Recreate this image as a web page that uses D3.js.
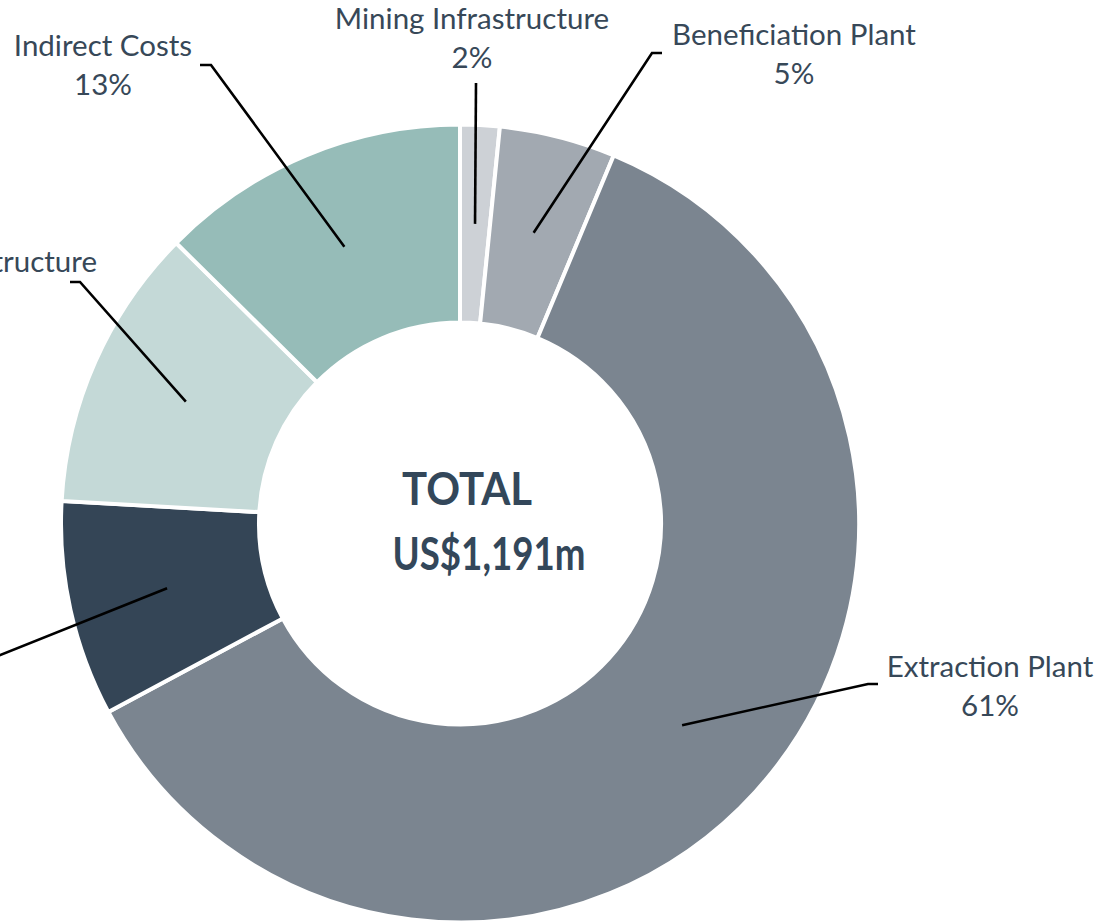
<!DOCTYPE html>
<html>
<head>
<meta charset="utf-8">
<script src="https://cdn.jsdelivr.net/npm/d3@7"></script>
<style>
  html, body { margin: 0; padding: 0; background: #fff; overflow: hidden; }
  svg { display: block; }
</style>
</head>
<body>
<div id="chart"></div>
<script>
// capex split, US$m (clockwise from 12 o'clock)
var categories = ["Mining Infrastructure", "Beneficiation Plant", "Extraction Plant",
                  "Contingency", "Non-Process Infrastructure", "Indirect Costs"];
var values = [19, 56, 725, 104, 137, 150];
var colours = ["#cdd1d6", "#a2a9b1", "#7b8590", "#344556", "#c4d9d7", "#96bcb8"];
var totalLines = ["TOTAL", "US$1,191m"];

// where each label sits: elbow end of the leader (ex, ey), text centre / baseline
var labelLayout = [
    { ex: 476, ey: 83, elbow: 0, tx: 472, ty: 29 },
    { ex: 652, ey: 53, elbow: 10, tx: 794, ty: 45 },
    { ex: 868, ey: 684, elbow: 10, tx: 990, ty: 677 },
    { ex: -150, ey: 715, elbow: -10, tx: -260, ty: 712 },
    { ex: 80, ey: 282, elbow: -10, tx: 97, ty: 272, alignEnd: true },
    { ex: 211, ey: 65, elbow: -11, tx: 103, ty: 56 }
];

var width = 1097, height = 921;
var cx = 460, cy = 523.5;
var outerR = 399, innerR = 201;
var textColour = "#374858";

var svg = d3.select('#chart').append('svg')
    .attr('width', width)
    .attr('height', height);

var total = d3.sum(values);
var rows = categories.map(function (c, i) {
    return { name: c, value: values[i], colour: colours[i], layout: labelLayout[i] };
});

var pie = d3.pie()
    .sort(null)
    .value(function (d) { return d.value; });

var arc = d3.arc().innerRadius(innerR).outerRadius(outerR);
// leaders start in the middle of the ring
var midArc = d3.arc().innerRadius(300).outerRadius(300);

var g = svg.append('g').attr('transform', 'translate(' + cx + ',' + cy + ')');

g.selectAll('path.slice')
    .data(pie(rows))
    .enter().append('path')
    .attr('class', 'slice')
    .attr('d', arc)
    .style('fill', function (d) { return d.data.colour; })
    .style('stroke', '#fff')
    .style('stroke-width', 4);

// leader lines
var arcs = pie(rows);
arcs.forEach(function (d) {
    var p = midArc.centroid(d);
    var L = d.data.layout;
    var pts = [[p[0] + cx, p[1] + cy], [L.ex, L.ey]];
    if (L.elbow) pts.push([L.ex + L.elbow, L.ey]);
    svg.append('path')
        .attr('d', d3.line()(pts))
        .style('fill', 'none')
        .style('stroke', '#000')
        .style('stroke-width', 2.6);
});

// labels: name + rounded share
arcs.forEach(function (d) {
    var L = d.data.layout;
    var pct = Math.round(d.data.value / total * 100) + '%';
    var t = svg.append('text')
        .attr('text-anchor', 'middle')
        .style('font-family', 'Lato, "Open Sans", sans-serif')
        .style('font-size', '29.5px')
        .style('fill', textColour);
    var l1 = t.append('tspan').attr('x', L.tx).attr('y', L.ty).text(d.data.name);
    var l2 = t.append('tspan').attr('x', L.tx).attr('y', L.ty + 39).text(pct);
    if (L.alignEnd) {
        var w = l1.node().getComputedTextLength();
        l1.attr('x', L.tx - w / 2);
        l2.attr('x', L.tx - w / 2);
    }
});

// centre total (narrowed a bit, the original face is condensed)
var totalPos = [[467, 505, 130], [489, 570, 193]];
totalLines.forEach(function (s, i) {
    svg.append('text')
        .attr('x', totalPos[i][0] - totalPos[i][2] / 2).attr('y', totalPos[i][1])
        .attr('textLength', totalPos[i][2])
        .attr('lengthAdjust', 'spacingAndGlyphs')
        .style('font-family', 'Lato, "Open Sans", sans-serif')
        .style('font-weight', 'bold')
        .style('font-size', '46px')
        .style('fill', '#33475a')
        .text(s);
});
</script>
</body>
</html>
